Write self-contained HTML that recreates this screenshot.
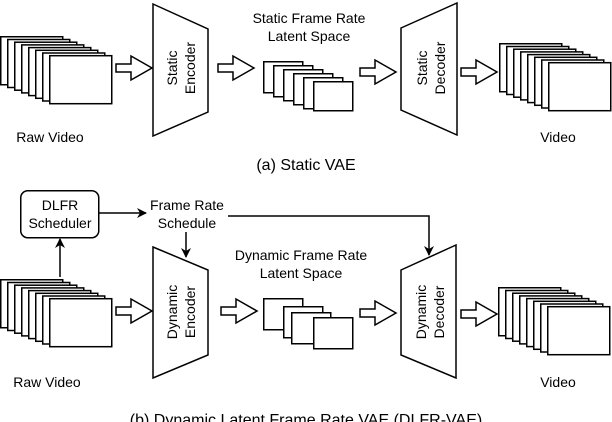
<!DOCTYPE html>
<html><head><meta charset="utf-8"><style>
html,body{margin:0;padding:0;background:#fff;}
svg{display:block;}
text{font-family:"Liberation Sans",Arial,sans-serif;fill:#000;}
</style></head><body>
<svg width="612" height="422" viewBox="0 0 612 422" xmlns="http://www.w3.org/2000/svg">
<defs>
<marker id="ah" markerWidth="10" markerHeight="10" refX="9" refY="5" orient="auto" markerUnits="userSpaceOnUse">
<path d="M0,0 L10,5 L0,10 L3,5 Z" fill="#000"/>
</marker>
<g id="stack8">
<rect x="0.75" y="0.75" width="62" height="48" fill="#fff" stroke="#000" stroke-width="1.5"/>
<rect x="7.75" y="3.5" width="62" height="48" fill="#fff" stroke="#000" stroke-width="1.5"/>
<rect x="14.75" y="6.2" width="62" height="48" fill="#fff" stroke="#000" stroke-width="1.5"/>
<rect x="21.75" y="8.9" width="62" height="48" fill="#fff" stroke="#000" stroke-width="1.5"/>
<rect x="28.75" y="11.6" width="62" height="48" fill="#fff" stroke="#000" stroke-width="1.5"/>
<rect x="35.75" y="14.3" width="62" height="48" fill="#fff" stroke="#000" stroke-width="1.5"/>
<rect x="42.75" y="17" width="62" height="48" fill="#fff" stroke="#000" stroke-width="1.5"/>
<rect x="49.75" y="19.7" width="62" height="48" fill="#fff" stroke="#000" stroke-width="1.5"/>
</g>
<path id="harrow" d="M0,-4 L15,-4 L15,-12 L36,0 L15,12 L15,4 L0,4 Z" fill="#fff" stroke="#000" stroke-width="1.5"/>
</defs>

<!-- (a) -->
<use href="#stack8" x="0" y="36"/>
<use href="#harrow" x="116" y="68"/>
<polygon points="153,4 208,29 208,112 153,136" fill="#fff" stroke="#000" stroke-width="1.5"/>
<text transform="translate(180,68) rotate(-90)" font-size="14" text-anchor="middle"><tspan x="0" dy="-3">Static</tspan><tspan x="0" dy="18">Encoder</tspan></text>
<use href="#harrow" x="218" y="68"/>
<text x="309" y="23" font-size="14" text-anchor="middle">Static Frame Rate</text>
<text x="309" y="41" font-size="14" text-anchor="middle">Latent Space</text>
<g fill="#fff" stroke="#000" stroke-width="1.5">
<rect x="263.75" y="61.75" width="39" height="31"/>
<rect x="273.75" y="65.75" width="39" height="31"/>
<rect x="283.75" y="69.75" width="39" height="31"/>
<rect x="293.75" y="73.75" width="39" height="31"/>
<rect x="303.75" y="77.75" width="39" height="31"/>
<rect x="313.75" y="81.75" width="39" height="29"/>
</g>
<use href="#harrow" x="360" y="72"/>
<polygon points="401,28 457,3 457,135 401,110" fill="#fff" stroke="#000" stroke-width="1.5"/>
<text transform="translate(430,68) rotate(-90)" font-size="14" text-anchor="middle"><tspan x="0" dy="-3">Static</tspan><tspan x="0" dy="18">Decoder</tspan></text>
<use href="#harrow" x="461" y="72"/>
<use href="#stack8" x="499" y="43"/>
<text x="50" y="142" font-size="14" text-anchor="middle">Raw Video</text>
<text x="558" y="142" font-size="14" text-anchor="middle">Video</text>
<text x="306" y="170" font-size="16" text-anchor="middle">(a) Static VAE</text>

<!-- (b) -->
<rect x="20.75" y="190.75" width="78" height="47" rx="7" fill="#fff" stroke="#000" stroke-width="1.5"/>
<text x="60" y="210" font-size="14" text-anchor="middle">DLFR</text>
<text x="60" y="228" font-size="14" text-anchor="middle">Scheduler</text>
<line x1="99" y1="213" x2="146" y2="213" stroke="#000" stroke-width="1.5" marker-end="url(#ah)"/>
<text x="187" y="210" font-size="14" text-anchor="middle">Frame Rate</text>
<text x="187" y="228" font-size="14" text-anchor="middle">Schedule</text>
<polyline points="228,216 429,216 429,255" fill="none" stroke="#000" stroke-width="1.5" marker-end="url(#ah)"/>
<line x1="186" y1="232" x2="186" y2="257" stroke="#000" stroke-width="1.5" marker-end="url(#ah)"/>
<line x1="60" y1="277" x2="60" y2="239" stroke="#000" stroke-width="1.5" marker-end="url(#ah)"/>
<use href="#stack8" x="0" y="279"/>
<use href="#harrow" x="116" y="311"/>
<polygon points="153,247 208,270 208,355 153,378" fill="#fff" stroke="#000" stroke-width="1.5"/>
<text transform="translate(180,312) rotate(-90)" font-size="14" text-anchor="middle"><tspan x="0" dy="-3">Dynamic</tspan><tspan x="0" dy="18">Encoder</tspan></text>
<use href="#harrow" x="221" y="311"/>
<text x="301" y="260" font-size="14" text-anchor="middle">Dynamic Frame Rate</text>
<text x="301" y="278" font-size="14" text-anchor="middle">Latent Space</text>
<g fill="#fff" stroke="#000" stroke-width="1.5">
<rect x="263.75" y="298.75" width="39" height="31"/>
<rect x="283.75" y="306.75" width="39" height="31"/>
<rect x="291.75" y="312.75" width="39" height="31"/>
<rect x="313.75" y="317.75" width="39" height="31"/>
</g>
<use href="#harrow" x="360" y="313"/>
<polygon points="401,270 456,245 456,378 401,355" fill="#fff" stroke="#000" stroke-width="1.5"/>
<text transform="translate(429,312) rotate(-90)" font-size="14" text-anchor="middle"><tspan x="0" dy="-3">Dynamic</tspan><tspan x="0" dy="18">Decoder</tspan></text>
<use href="#harrow" x="461" y="314"/>
<use href="#stack8" x="498" y="287"/>
<text x="47" y="387" font-size="14" text-anchor="middle">Raw Video</text>
<text x="558" y="387" font-size="14" text-anchor="middle">Video</text>
<text x="306" y="425" font-size="16" text-anchor="middle">(b) Dynamic Latent Frame Rate VAE (DLFR-VAE)</text>
</svg>
</body></html>
